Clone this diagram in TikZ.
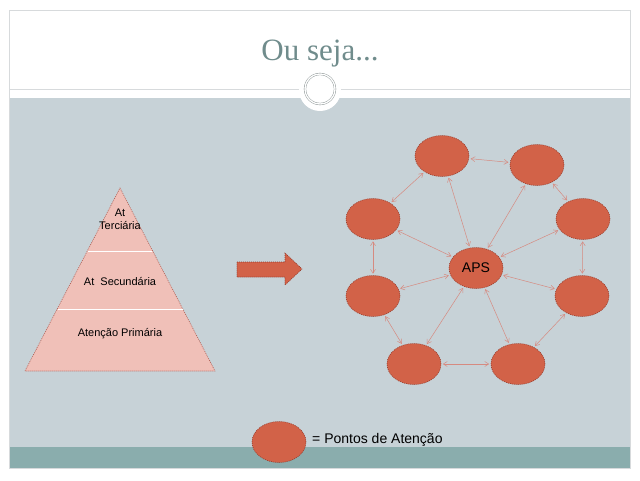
\documentclass[tikz,border=0pt]{standalone}
\usepackage{fontspec}
\setmainfont{Liberation Sans}
\newfontfamily\titlefont{Liberation Serif}
\usetikzlibrary{shapes.geometric,arrows.meta}
\definecolor{bgblue}{RGB}{199,210,215}
\definecolor{tealband}{RGB}{138,173,173}
\definecolor{framegray}{RGB}{215,218,220}
\definecolor{titlecol}{RGB}{112,140,140}
\definecolor{circgray}{RGB}{130,140,140}
\definecolor{nodefill}{RGB}{210,98,72}
\definecolor{nodeborder}{RGB}{150,58,42}
\definecolor{linkcol}{RGB}{214,138,128}
\definecolor{pyrfill}{RGB}{240,192,184}
\definecolor{pyrborder}{RGB}{175,95,85}
\begin{document}
\begin{tikzpicture}[x=1pt,y=-1pt,
  pt/.style={ellipse, fill=nodefill, draw=nodeborder, dash pattern=on 1pt off 1pt,
    line width=0.6pt, minimum width=54pt, minimum height=41pt, inner sep=0pt,
    font=\fontsize{14}{16}\selectfont},
  link/.style={draw=linkcol, line width=0.5pt,
    {Straight Barb[length=4pt,width=5pt]}-{Straight Barb[length=4pt,width=5pt]},
    shorten >=1.5pt, shorten <=1.5pt},
  pyrtext/.style={font=\fontsize{11}{13}\selectfont, align=center, inner sep=0pt}]
\useasboundingbox (0,0) rectangle (640,480);
\fill[white] (0,0) rectangle (640,480);
% slide background
\fill[bgblue] (10,98) rectangle (630,447);
\fill[tealband] (10,447) rectangle (630,468);
\draw[framegray, line width=0.7pt] (9.5,10.5) rectangle (630.5,468.5);
\draw[framegray, line width=0.7pt] (10,89) -- (630,89);
\fill[white] (320,90) circle (21pt);
\draw[circgray, line width=0.4pt, double=white, double distance=1.4pt] (320,89) circle (15pt);
\node[titlecol, font=\titlefont\fontsize{31}{34}\selectfont, anchor=base] (title) at (320,60) {Ou seja...};
% pyramid
\draw[fill=pyrfill, draw=pyrborder, line width=0.6pt, dash pattern=on 1pt off 1pt]
  (25,371) -- (120,188) -- (215,371) -- cycle;
\draw[white, line width=1pt] (87.6,251) -- (152.4,251);
\draw[white, line width=1pt] (57.5,309) -- (182.5,309);
\node[pyrtext] (terc) at (120,219.5) {At\\Terciária};
\node[pyrtext] (sec) at (120,281) {At\ \ Secundária};
\node[pyrtext] (prim) at (120,334) {Atenção Primária};
% big arrow
\draw[fill=nodefill, draw=nodeborder, line width=0.6pt, dash pattern=on 1pt off 1pt]
  (237,262) -- (285,262) -- (285,253) -- (302,269) -- (285,285) -- (285,277) -- (237,277) -- cycle;
% network
\node[pt] (aps) at (476,268) {APS};
\node[pt] (n1) at (442,156) {};
\node[pt] (n2) at (537,165) {};
\node[pt] (n3) at (583,219) {};
\node[pt] (n4) at (582,296) {};
\node[pt] (n5) at (518,364) {};
\node[pt] (n6) at (414,364) {};
\node[pt] (n7) at (373,296) {};
\node[pt] (n8) at (373,219) {};
\foreach \a/\b in {n1/n2,n2/n3,n3/n4,n4/n5,n5/n6,n6/n7,n7/n8,n8/n1}
  \draw[link] (\a) -- (\b);
\foreach \b in {n1,n2,n3,n4,n5,n6,n7,n8}
  \draw[link] (aps) -- (\b);
% legend
\node[pt] (leg) at (279,442) {};
\node[anchor=west, inner sep=0pt, font=\fontsize{14}{16}\selectfont] (legtext) at (312,440) {= Pontos de Atenção};
\end{tikzpicture}
\end{document}
